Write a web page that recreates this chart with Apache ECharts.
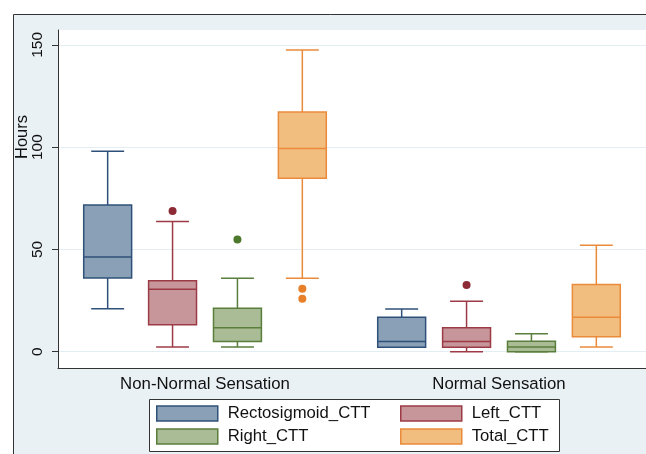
<!DOCTYPE html>
<html>
<head>
<meta charset="utf-8">
<script src="https://cdn.jsdelivr.net/npm/echarts@6/dist/echarts.min.js"></script>
<style>
  html, body { margin: 0; padding: 0; background: #fff; }
  #chart { width: 646px; height: 454px; }
</style>
</head>
<body>
<div id="chart"></div>
<script>
// 分组
var groups = ['Non-Normal Sensation', 'Normal Sensation'];
var yTicks = [0, 50, 100, 150];

// 箱线图数据 [min, Q1, median, Q3, max]，按组
var rectoStats = [[21, 36, 46.3, 71.7, 98], [2.1, 2.1, 4.9, 16.8, 20.9]];
var leftStats = [[2.3, 13.1, 30.5, 34.7, 63.6], [0, 2.1, 4.9, 11.7, 24.6]];
var rightStats = [[2.3, 4.9, 11.7, 21.2, 35.9], [0, 0, 2.3, 5.1, 8.8]];
var totalStats = [[35.9, 84.8, 99.3, 117.2, 147.5], [2.3, 7.3, 16.8, 32.8, 52]];

// 离群点 [组, 值]
var leftOut = [[0, 68.8], [1, 32.6]];
var rightOut = [[0, 54.8]];
var totalOut = [[0, 30.8], [0, 25.9]];

var names = ['Rectosigmoid_CTT', 'Left_CTT', 'Right_CTT', 'Total_CTT'];
var fills = ['#8aa0b7', '#c7969b', '#a9bc95', '#f2be7f'];
var strokes = ['#2f5179', '#9c3b46', '#5a7e3b', '#ea8a3b'];
var dotColors = ['#2f5179', '#8c2a36', '#4c792d', '#e87f29'];

var font = "'Liberation Sans', Arial, sans-serif";

// 每个箱子在组内的偏移（占类目宽度的比例）
function boxX(api, cat, k) {
  var band = api.size([1, 0])[0];
  return api.coord([cat, 0])[0] + (k - 1.5) * band * 0.2207;
}

function makeBox(k) {
  return function (params, api) {
    var band = api.size([1, 0])[0];
    var cat = api.value(0);
    var cx = boxX(api, cat, k);
    var y = [1, 2, 3, 4, 5].map(function (i) {
      return api.coord([cat, api.value(i)])[1];
    });
    var bw = band * 0.163, cw = band * 0.112;
    var ls = { stroke: strokes[k], lineWidth: 1.5 };
    return {
      type: 'group',
      children: [
        { type: 'line', shape: { x1: cx, y1: y[4], x2: cx, y2: y[3] }, style: ls },
        { type: 'line', shape: { x1: cx, y1: y[1], x2: cx, y2: y[0] }, style: ls },
        { type: 'line', shape: { x1: cx - cw / 2, y1: y[4], x2: cx + cw / 2, y2: y[4] }, style: ls },
        { type: 'line', shape: { x1: cx - cw / 2, y1: y[0], x2: cx + cw / 2, y2: y[0] }, style: ls },
        { type: 'rect', shape: { x: cx - bw / 2, y: y[3], width: bw, height: y[1] - y[3] },
          style: { fill: fills[k], stroke: strokes[k], lineWidth: 1.5 } },
        { type: 'line', shape: { x1: cx - bw / 2, y1: y[2], x2: cx + bw / 2, y2: y[2] }, style: ls }
      ]
    };
  };
}

function makeDot(k) {
  return function (params, api) {
    var cat = api.value(0);
    var cx = boxX(api, cat, k);
    var cy = api.coord([cat, api.value(1)])[1];
    return { type: 'circle', shape: { cx: cx, cy: cy, r: 4 }, style: { fill: dotColors[k] } };
  };
}

function toData(stats) {
  return stats.map(function (s, i) { return [i].concat(s); });
}

var allStats = [rectoStats, leftStats, rightStats, totalStats];
var allOut = [null, leftOut, rightOut, totalOut];

var series = [];
allStats.forEach(function (st, k) {
  series.push({
    name: names[k],
    type: 'custom',
    renderItem: makeBox(k),
    itemStyle: { color: fills[k], borderColor: strokes[k] },
    data: toData(st)
  });
});
allOut.forEach(function (o, k) {
  if (!o) return;
  series.push({
    name: names[k] + ' outliers',
    type: 'custom',
    renderItem: makeDot(k),
    data: o
  });
});

function legendItems(idx) {
  return idx.map(function (k) {
    return { name: names[k], itemStyle: { color: fills[k], borderColor: strokes[k], borderWidth: 1.5 } };
  });
}

var legendBase = {
  orient: 'vertical',
  top: 405,
  itemWidth: 61,
  itemHeight: 15,
  itemGap: 6,
  icon: 'rect',
  selectedMode: false,
  textStyle: { fontSize: 16.7, color: '#111', fontFamily: font, padding: [0, 0, 0, 5] },
  padding: 0
};

var chart = echarts.init(document.getElementById('chart'));
chart.setOption({
  backgroundColor: '#fff',
  animation: false,
  textStyle: { fontFamily: font },
  graphic: [
    { type: 'rect', z: -10, shape: { x: 13.5, y: 14.5, width: 700, height: 500 },
      style: { fill: '#e9f1f4', stroke: '#333', lineWidth: 1 } },
    { type: 'rect', z: -9, shape: { x: 58, y: 30, width: 600, height: 338 },
      style: { fill: '#fff' } },
    { type: 'rect', z: 1, shape: { x: 149.5, y: 399.5, width: 410, height: 52 },
      style: { fill: '#fff', stroke: '#333', lineWidth: 1 } },
    { type: 'text', z: 5, x: 22, y: 137, rotation: Math.PI / 2,
      style: { text: 'Hours', fontSize: 16.5, fill: '#111', fontFamily: font,
        textAlign: 'center', textVerticalAlign: 'middle' } }
  ],
  grid: { left: 58, right: -4, top: 30, bottom: 86 },
  legend: [
    Object.assign({}, legendBase, { left: 156, data: legendItems([0, 2]) }),
    Object.assign({}, legendBase, { left: 400, data: legendItems([1, 3]) })
  ],
  xAxis: {
    type: 'category',
    data: groups,
    axisTick: { show: false },
    axisLine: { onZero: false, lineStyle: { color: '#333', width: 1 } },
    axisLabel: { fontSize: 16.8, color: '#111', margin: 8 }
  },
  yAxis: {
    type: 'value',
    min: -8,
    max: 157.3,
    axisLine: { show: true, lineStyle: { color: '#333', width: 1 } },
    axisTick: { show: true, length: 6, customValues: yTicks, lineStyle: { color: '#333' } },
    axisLabel: { customValues: yTicks, rotate: 90, fontSize: 15.5, color: '#111', margin: 12 },
    splitLine: { show: true, lineStyle: { color: '#e3eef4', width: 1 } }
  },
  series: series
});
</script>
</body>
</html>
